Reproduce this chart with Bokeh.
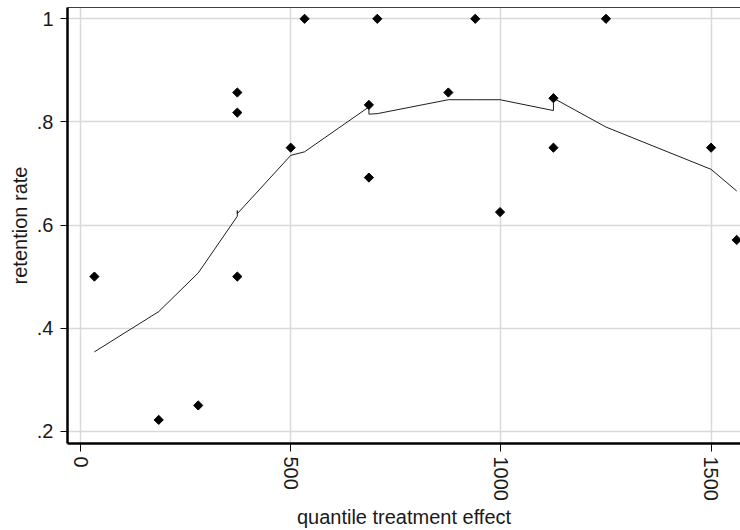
import numpy as np
from bokeh.plotting import figure
from bokeh.models import (LinearAxis, FixedTicker, CustomJSTickFormatter, Range1d,
                          ColumnDataSource)
from bokeh.embed import file_html
from bokeh.resources import INLINE

# observed points: quantile treatment effect vs retention rate
qte = [33, 186, 280, 373, 373, 373, 500, 533, 686, 686, 706, 875, 939, 998,
       1125, 1125, 1250, 1500, 1561]
retention = [0.5, 0.222, 0.25, 0.5, 0.818, 0.857, 0.75, 1.0, 0.692, 0.833,
             1.0, 0.857, 1.0, 0.625, 0.75, 0.846, 1.0, 0.75, 0.571]

# lowess smoother (as drawn, sorted by x, ties kept)
lowess_x = [33, 186, 280, 373, 373, 373, 500, 533, 686, 686, 706, 875, 939,
            998, 1125, 1125, 1250, 1500, 1561]
lowess_y = [0.354, 0.432, 0.507, 0.617, 0.628, 0.622, 0.735, 0.742, 0.829,
            0.815, 0.816, 0.843, 0.843, 0.843, 0.822, 0.846, 0.790, 0.708,
            0.666]

x_ticks = [0, 500, 1000, 1500]
y_ticks = [0.2, 0.4, 0.6, 0.8, 1.0]

FONT = "Liberation Sans"

p = figure(width=740, height=530, output_backend="svg", toolbar_location=None,
           x_range=Range1d(-31, 1570), y_range=Range1d(0.1762, 1.0219),
           min_border_left=67, min_border_right=0, min_border_top=7,
           min_border_bottom=86, background_fill_color="white",
           border_fill_color="white", outline_line_color=None)

# grid
p.xgrid.ticker = FixedTicker(ticks=x_ticks)
p.ygrid.ticker = FixedTicker(ticks=y_ticks)
p.grid.grid_line_color = "#d9d9d9"
p.grid.grid_line_width = 1.5

# x axis
xa = p.xaxis[0]
xa.ticker = FixedTicker(ticks=x_ticks)
xa.major_label_orientation = -np.pi / 2
xa.axis_label = "quantile treatment effect"
xa.major_tick_in = 0
xa.major_tick_out = 8
xa.major_label_standoff = 5
xa.axis_label_standoff = 2

# y axis
ya = p.yaxis[0]
ya.ticker = FixedTicker(ticks=y_ticks)
ya.formatter = CustomJSTickFormatter(code="""
    if (Math.abs(tick - 1) < 1e-9) return "1";
    return tick.toFixed(1).replace(/^0/, "");
""")
ya.axis_label = "retention rate"
ya.major_tick_in = 0
ya.major_tick_out = 7
ya.major_label_standoff = 7
ya.axis_label_standoff = 3

for ax in (xa, ya):
    ax.axis_line_color = "black"
    ax.axis_line_width = 2.5
    ax.major_tick_line_color = "black"
    ax.major_tick_line_width = 1
    ax.minor_tick_line_color = None
    ax.major_label_text_font = FONT
    ax.major_label_text_font_size = "20px"
    ax.major_label_text_color = "#1a1a1a"
    ax.axis_label_text_font = FONT
    ax.axis_label_text_font_size = "20px"
    ax.axis_label_text_font_style = "normal"
    ax.axis_label_text_color = "#1a1a1a"

# top border line
top = LinearAxis(ticker=FixedTicker(ticks=[]), major_tick_line_color=None,
                 minor_tick_line_color=None, major_label_text_font_size="0px",
                 axis_line_color="#404040", axis_line_width=1.2)
p.add_layout(top, "above")

# lowess line
p.line(lowess_x, lowess_y, line_color="#1e1e1e", line_width=1)

# points
src = ColumnDataSource(dict(x=qte, y=retention))
p.scatter("x", "y", source=src, marker="square", angle=np.pi / 4, size=6.5,
          fill_color="black", line_color="black")

open("out.html", "w").write(file_html(p, INLINE))
